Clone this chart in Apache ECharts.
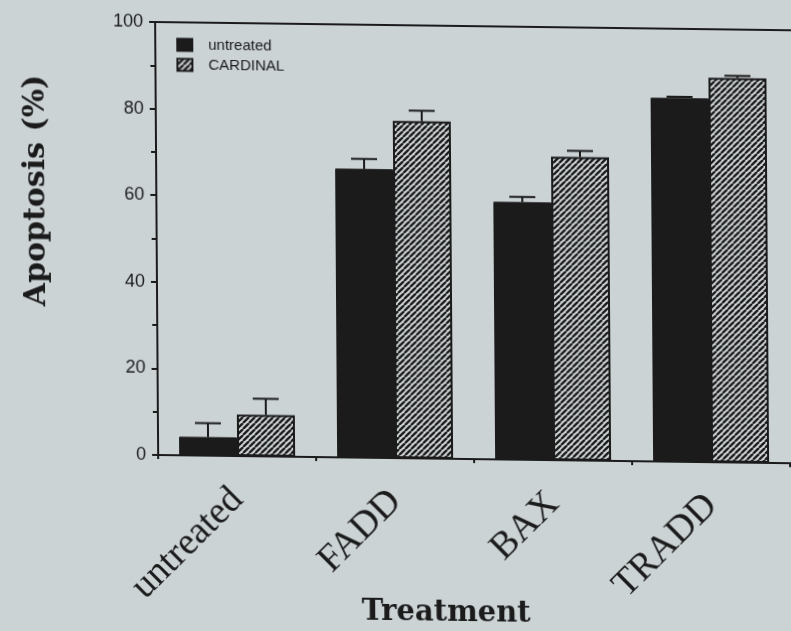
<!DOCTYPE html>
<html>
<head>
<meta charset="utf-8">
<script src="https://cdn.jsdelivr.net/npm/echarts@6/dist/echarts.min.js"></script>
<style>
  html, body { margin: 0; padding: 0; background: #ccd3d5; overflow: hidden; }
  #chart { width: 791px; height: 631px; transform: matrix(1, 0.013, 0.007, 1, 0, 0); transform-origin: 0 0; }
</style>
</head>
<body>
<div id="chart"></div>
<script>
const categories = ['untreated', 'FADD', 'BAX', 'TRADD'];
const untreatedVals = [4.3, 66.7, 59.5, 84.0];
const cardinalVals = [9.6, 77.9, 70.1, 88.8];
const untreatedErr = [3.2, 2.3, 1.2, 0.3];
const cardinalErr = [3.7, 2.4, 1.4, 0.5];
const seriesNames = ['untreated', 'CARDINAL'];

const INK = '#1b1b1c';

// hatch pattern "/"
const tile = document.createElement('canvas');
const S = 6;
tile.width = S; tile.height = S;
const tc = tile.getContext('2d');
tc.fillStyle = '#d6dbdc';
tc.fillRect(0, 0, S, S);
tc.strokeStyle = INK;
tc.lineWidth = 2.4;
for (const x0 of [-S, 0, S]) {
  tc.beginPath();
  tc.moveTo(x0, S);
  tc.lineTo(x0 + S, 0);
  tc.stroke();
}
const hatch = { image: tile, repeat: 'repeat' };

const BW = 58;
function errSeries(vals, errs, off, name) {
  return {
    type: 'custom',
    name: name,
    xAxisIndex: 0, yAxisIndex: 0,
    z: 1,
    silent: true,
    data: vals.map((v, i) => [i, v, errs[i]]),
    renderItem: function (params, api) {
      const i = api.value(0), v = api.value(1), e = api.value(2);
      const p0 = api.coord([i, v]);
      const p1 = api.coord([i, v + e]);
      const x = p0[0] + off;
      const st = { stroke: INK, lineWidth: 2 };
      return {
        type: 'group',
        children: [
          { type: 'line', shape: { x1: x, y1: p0[1], x2: x, y2: p1[1] }, style: st },
          { type: 'line', shape: { x1: x - 13, y1: p1[1], x2: x + 13, y2: p1[1] }, style: st }
        ]
      };
    }
  };
}

const chart = echarts.init(document.getElementById('chart'), null, { renderer: 'canvas' });
chart.setOption({
  backgroundColor: 'transparent',
  animation: false,
  legend: {
    orient: 'vertical',
    left: 176, top: 35, padding: 0,
    itemWidth: 15, itemHeight: 12, itemGap: 5,
    icon: 'rect',
    data: seriesNames,
    textStyle: { fontFamily: 'Liberation Sans', fontSize: 15, color: INK, padding: [0, 0, 0, 11] }
  },
  grid: [
    { left: 155, right: 4, top: 20, bottom: 178, containLabel: false, outerBoundsMode: 'none' },
    { left: 155, right: -40, top: 20, bottom: 178, containLabel: false, outerBoundsMode: 'none' }
  ],
  xAxis: [
    {
      type: 'category', gridIndex: 0, data: categories,
      axisLine: { lineStyle: { color: INK, width: 2 } },
      axisTick: { show: true, length: 4, lineStyle: { color: INK, width: 2 } },
      axisLabel: { rotate: 45, margin: 38, fontFamily: 'Liberation Serif', fontSize: 38, color: INK, interval: 0 },
      name: 'Treatment', nameLocation: 'middle', nameGap: 140, nameMoveOverlap: false,
      nameTextStyle: { fontFamily: 'DejaVu Serif', fontWeight: 'bold', fontSize: 29, color: INK, padding: [0, 58, 0, 0] }
    },
    {
      type: 'value', gridIndex: 1, position: 'top',
      axisLine: { show: true, onZero: false, lineStyle: { color: INK, width: 2 } },
      axisTick: { show: false }, axisLabel: { show: false }, splitLine: { show: false }
    },
    {
      type: 'value', gridIndex: 1, position: 'bottom',
      axisLine: { show: true, onZero: false, lineStyle: { color: INK, width: 2 } },
      axisTick: { show: false }, axisLabel: { show: false }, splitLine: { show: false }
    }
  ],
  yAxis: [
    {
      type: 'value', gridIndex: 0, min: 0, max: 100, interval: 20,
      axisLine: { show: true, lineStyle: { color: INK, width: 2 } },
      axisTick: { show: true, length: 6, lineStyle: { color: INK, width: 2 } },
      minorTick: { show: true, splitNumber: 2, length: 5, lineStyle: { color: INK, width: 2 } },
      splitLine: { show: false },
      axisLabel: { margin: 12, fontFamily: 'Liberation Sans', fontSize: 18, color: INK },
      name: 'Apoptosis (%)', nameLocation: 'middle', nameGap: 105, nameRotate: 90, nameMoveOverlap: false,
      nameTextStyle: { fontFamily: 'DejaVu Serif', fontWeight: 'bold', fontSize: 30, color: INK, padding: [0, 0, 0, 93] }
    },
    { type: 'value', gridIndex: 1, show: false }
  ],
  series: [
    {
      type: 'bar', name: seriesNames[0], data: untreatedVals,
      barWidth: BW, barGap: '0%', z: 2,
      itemStyle: { color: INK, borderColor: INK, borderWidth: 1 }
    },
    {
      type: 'bar', name: seriesNames[1], data: cardinalVals,
      barWidth: BW, barGap: '0%', z: 2,
      itemStyle: { color: hatch, borderColor: INK, borderWidth: 2 }
    },
    errSeries(untreatedVals, untreatedErr, -BW / 2, 'err-untreated'),
    errSeries(cardinalVals, cardinalErr, BW / 2, 'err-cardinal')
  ]
});
</script>
</body>
</html>
